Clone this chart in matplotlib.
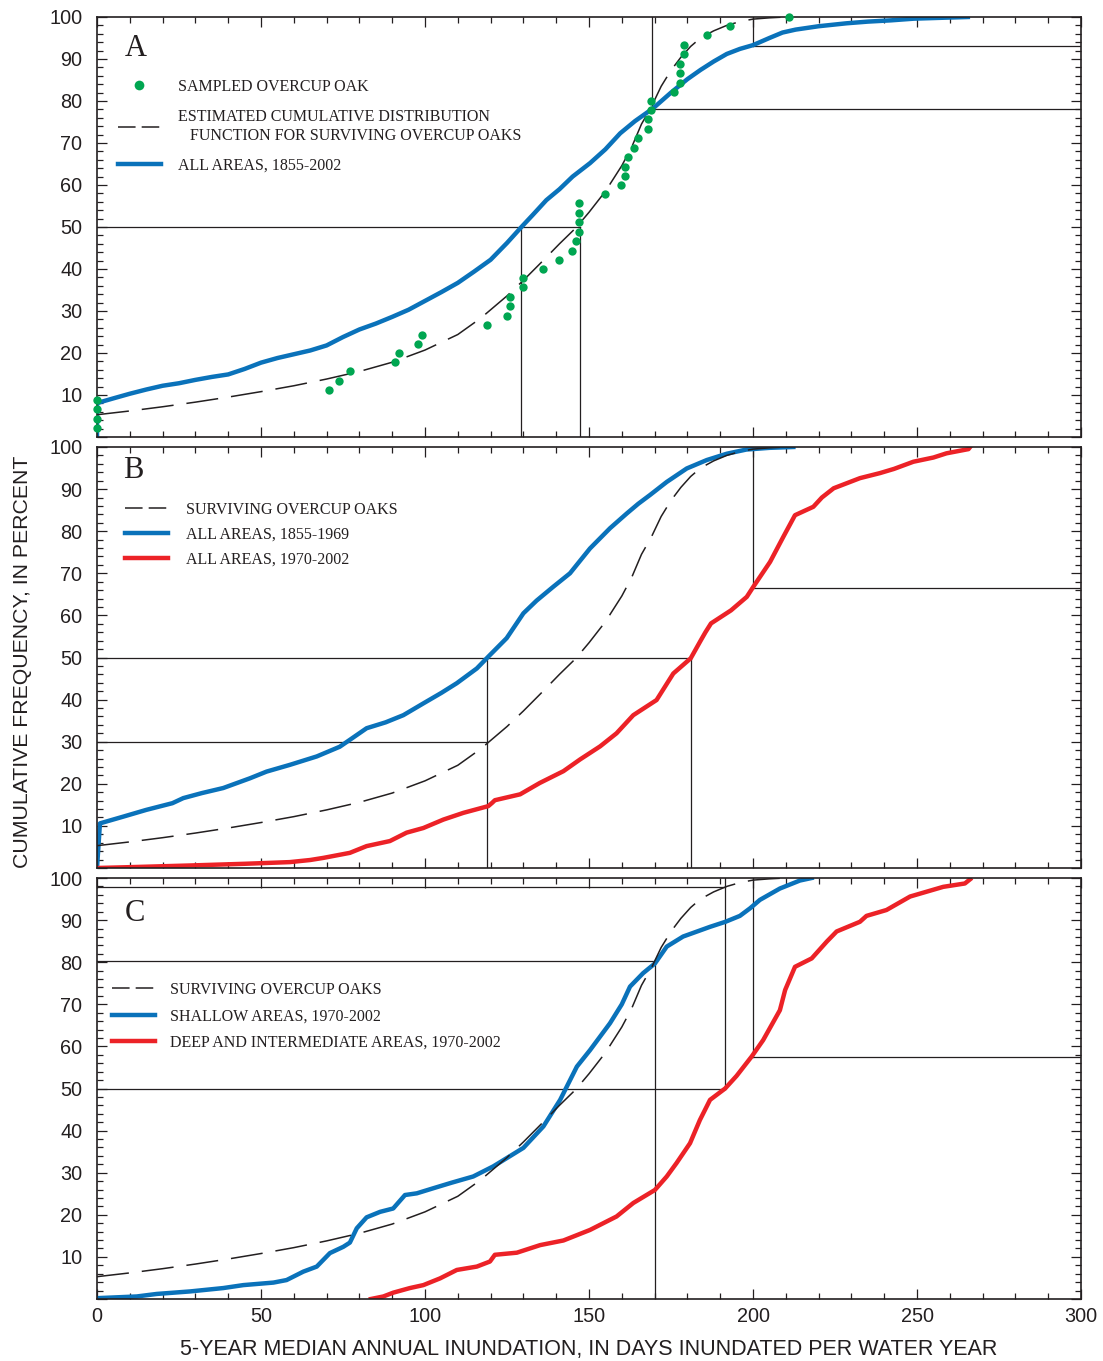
"""
Cumulative distribution of 5-year median annual inundation for
overcup oak sites (panels A, B, C stacked on a shared x axis).
"""
import matplotlib
matplotlib.use("Agg")
import matplotlib.pyplot as plt
from matplotlib.lines import Line2D
from matplotlib.ticker import MultipleLocator, FixedLocator, FuncFormatter

# --- data -----------------------------------------------------------------
# estimated CDF for surviving overcup oaks (same curve in all panels)
OAK_X = [0, 10, 20, 30, 40, 50, 60, 70, 80, 90, 100, 110, 117, 125, 130, 136,
         141, 146, 150, 155, 160, 163, 166, 169, 172, 175, 178, 181, 184, 188,
         192, 196, 200, 205, 210]
OAK_Y = [5.3, 6.2, 7.2, 8.3, 9.5, 10.8, 12.2, 13.8, 15.6, 17.8, 20.7, 24.4,
         28.3, 33.6, 37.3, 42, 46, 49.8, 53.5, 58.5, 64.6, 69, 74.5, 78.6, 83.5,
         87.3, 90.4, 93, 95, 96.7, 98, 98.9, 99.5, 99.8, 100]

# sampled overcup oaks (panel A)
SAMPLE_X = [0, 0, 0, 0, 70.8, 73.9, 77, 91, 92, 98, 99, 118.8, 124.9, 125.9,
            125.9, 130, 130, 135.9, 140.8, 144.9, 145.9, 146.9, 146.9, 146.9,
            146.9, 154.9, 159.9, 160.9, 160.9, 161.9, 163.8, 164.8, 167.9,
            167.9, 168.9, 168.9, 175.8, 177.8, 177.8, 177.8, 178.9, 178.9,
            185.9, 192.9, 210.9]
SAMPLE_Y = [2.2, 4.4, 6.7, 8.9, 11.1, 13.3, 15.6, 17.8, 20.0, 22.2, 24.4, 26.7,
            28.9, 31.1, 33.3, 35.6, 37.8, 40.0, 42.2, 44.4, 46.7, 48.9, 51.1,
            53.3, 55.6, 57.8, 60.0, 62.2, 64.4, 66.7, 68.9, 71.1, 73.3, 75.6,
            77.8, 80.0, 82.2, 84.4, 86.7, 88.9, 91.1, 93.3, 95.6, 97.8, 100.0]

# A: all areas 1855-2002
A_ALL_X = [0, 0, 1, 5, 10, 15, 20, 25, 30, 35, 40, 45, 50, 55, 60, 65, 70, 75,
           80, 85, 90, 95, 100, 105, 110, 115, 120, 125, 129.4, 133, 137, 141,
           145, 150.3, 155, 159.5, 164, 169.6, 175, 180, 184, 188, 192, 196,
           200, 205, 209, 213, 220, 228.5, 235, 242, 249, 257, 265.5]
A_ALL_Y = [0, 8, 8.3, 9.2, 10.3, 11.3, 12.2, 12.8, 13.6, 14.3, 14.9, 16.2, 17.7,
           18.8, 19.7, 20.6, 21.8, 23.8, 25.6, 27, 28.6, 30.3, 32.4, 34.5, 36.7,
           39.4, 42.2, 46.2, 50, 53, 56.4, 59, 62, 65.2, 68.5, 72.3, 75.2, 78.3,
           82, 85.2, 87.4, 89.4, 91.2, 92.4, 93.3, 95, 96.3, 97, 97.8, 98.5,
           98.9, 99.2, 99.6, 99.8, 100]

# B: all areas 1855-1969 / 1970-2002
B_OLD_X = [0, 0.9, 8, 15, 23, 26.3, 32, 38.5, 46.6, 51.7, 58.8, 67, 74, 77,
           82.2, 88, 93.4, 99.5, 105, 109.7, 115.8, 119.3, 124.9, 130, 134,
           139.1, 144.2, 150.3, 156.4, 161.5, 165, 168.6, 173.7, 179.8, 185.9,
           192, 198, 205, 212.3]
B_OLD_Y = [0, 10.6, 12.2, 13.8, 15.4, 16.6, 17.8, 19, 21.3, 22.9, 24.5, 26.5,
           28.8, 30.4, 33.2, 34.6, 36.3, 39.1, 41.6, 43.9, 47.4, 50.2, 54.6,
           60.5, 63.5, 66.8, 70, 75.9, 80.7, 84.2, 86.5, 88.6, 91.7, 94.9, 96.9,
           98.4, 99.4, 99.8, 100]
B_NEW_X = [0, 10, 28.4, 45, 58.8, 65, 69, 77.1, 82.2, 89.3, 94.4, 99.5, 105.6,
           111.7, 119.3, 120.5, 121.3, 129, 135, 142.2, 147.3, 153.4, 158.4,
           163.5, 170.6, 175.7, 181, 184.1, 185.5, 187.2, 193.3, 198.1, 200.1,
           205.2, 209.2, 212.8, 218.4, 221, 224.6, 232.6, 238.7, 243, 248.9,
           255, 259, 265.7, 266.2]
B_NEW_Y = [0, 0.2, 0.6, 1.0, 1.4, 1.9, 2.4, 3.6, 5.2, 6.4, 8.4, 9.5, 11.5, 13.1,
           14.7, 15.5, 16.1, 17.5, 20.2, 23, 25.8, 28.9, 32, 36.3, 39.9, 46.2,
           49.8, 54.1, 56, 58.1, 61.2, 64.4, 66.8, 72.7, 78.6, 83.8, 85.8, 88,
           90.2, 92.6, 93.8, 94.8, 96.5, 97.5, 98.5, 99.5, 100]

# C: shallow / deep and intermediate areas 1970-2002
C_SHALLOW_X = [0, 12.1, 18.2, 28.4, 38.5, 44.6, 53.8, 57.8, 62.9, 67, 71, 75.1,
               77.1, 79.2, 82.2, 86.3, 90.3, 93.9, 97.5, 102.5, 108, 114.7,
               120.8, 125, 130, 136.1, 141.2, 143.2, 146.3, 150.3, 156.4, 160,
               162.5, 166.5, 170.1, 173.7, 178.7, 186.9, 191.6, 196, 199.1,
               202.1, 208.2, 214.3, 217.9]
C_SHALLOW_Y = [0.2, 0.6, 1.2, 1.8, 2.6, 3.3, 3.9, 4.5, 6.5, 7.7, 10.9, 12.4,
               13.4, 16.8, 19.4, 20.7, 21.5, 24.7, 25.1, 26.3, 27.6, 29.1, 31.5,
               33.5, 35.9, 41, 47.3, 50.4, 55.2, 59.1, 65.5, 70, 74.2, 77.4,
               79.7, 83.7, 86.1, 88.4, 89.6, 91, 92.8, 94.8, 97.5, 99.4, 100]
C_DEEP_X = [83.5, 87.3, 90.3, 95.4, 99.5, 104.6, 109.7, 115.8, 119.8, 121.3,
            128, 135.1, 142.2, 150.3, 158.4, 163.5, 170.1, 173.7, 176.7, 180.8,
            183.8, 186.9, 191.5, 195, 199.6, 203.1, 208.2, 209.8, 212.8, 217.9,
            222.5, 225.5, 232.6, 234.6, 240.7, 247.9, 258, 264.6, 266.2]
C_DEEP_Y = [0, 0.6, 1.5, 2.6, 3.3, 4.9, 6.9, 7.7, 8.9, 10.5, 11, 12.8, 13.9,
            16.4, 19.6, 22.8, 25.9, 29.1, 32.3, 37, 42.5, 47.3, 50, 53, 57.6,
            61.5, 68.6, 73.4, 78.9, 80.9, 84.9, 87.3, 89.6, 91, 92.4, 95.6, 97.9,
            98.7, 99.7]

# thin guide lines, each as (x pair, y pair)
A_GUIDES = [((0, 147.3), (50, 50)), ((129.3, 129.3), (0, 50)),
            ((147.3, 147.3), (0, 50)), ((169.2, 169.2), (78, 100)),
            ((169.2, 300), (78, 78)), ((200, 200), (93, 100)),
            ((200, 300), (93, 93))]
B_GUIDES = [((0, 181), (50, 50)), ((0, 119), (30, 30)),
            ((119, 119), (0, 50)), ((181, 181), (0, 50)),
            ((200, 200), (66.5, 100)), ((200, 300), (66.5, 66.5))]
C_GUIDES = [((0, 191.6), (97.9, 97.9)), ((0, 170.1), (80.2, 80.2)),
            ((170.1, 170.1), (0, 80.2)), ((0, 191.6), (50, 50)),
            ((191.6, 191.6), (50, 100)), ((200, 200), (57.5, 100)),
            ((200, 300), (57.5, 57.5))]

X_TICKS = [0, 50, 100, 150, 200, 250, 300]
Y_TICKS = [0, 10, 20, 30, 40, 50, 60, 70, 80, 90, 100]

# --- styles -----------------------------------------------------------------
INK = "#231f20"
BLUE = "#0a72ba"
RED = "#ec2227"
GREEN = "#00a651"
SANS = ["Liberation Sans", "DejaVu Sans"]
SERIF = ["Liberation Serif", "DejaVu Serif"]
DASH = dict(color=INK, lw=1.1, dashes=(21, 8.5))
DASH_KEY = dict(color=INK, lw=1.1, dashes=(11.5, 4))


def style_axes(ax, show_xlabels):
    ax.set_xlim(0, 300)
    ax.set_ylim(0, 100)
    ax.xaxis.set_major_locator(FixedLocator(X_TICKS))
    ax.xaxis.set_minor_locator(MultipleLocator(10))
    ax.yaxis.set_major_locator(FixedLocator(Y_TICKS))
    ax.yaxis.set_minor_locator(MultipleLocator(2))
    # no label at the 0 tick
    ax.yaxis.set_major_formatter(FuncFormatter(
        lambda v, pos: "" if v == 0 else f"{v:.0f}"))
    ax.tick_params(which="both", direction="in", top=True, right=True,
                   color=INK, width=0.9)
    ax.tick_params(which="major", length=7)
    ax.tick_params(which="minor", length=4)
    ax.tick_params(axis="y", labelsize=14.3, labelcolor=INK, pad=10.5)
    ax.tick_params(axis="x", labelsize=14.3, labelcolor=INK, pad=6)
    if not show_xlabels:
        ax.tick_params(axis="x", labelbottom=False)
    for lab in ax.get_xticklabels() + ax.get_yticklabels():
        lab.set_family(SANS)
    for sp in ax.spines.values():
        sp.set_color(INK)
        sp.set_linewidth(1.2)


def draw_guides(ax, guides):
    for xs, ys in guides:
        ax.plot(xs, ys, color=INK, lw=0.9, zorder=1)


def panel_letter(ax, letter, x, y):
    ax.text(x, y, letter, transform=ax.transAxes, fontsize=22,
            family=SERIF, color=INK, va="baseline", ha="left")


def add_legend(ax, handles, labels, anchor, spacing, textpad=1.1):
    ax.legend(handles, labels, loc="upper left", bbox_to_anchor=anchor,
              frameon=False, borderaxespad=0, borderpad=0,
              handlelength=2.7, handletextpad=textpad, labelspacing=spacing,
              prop={"family": SERIF, "size": 11.5}, labelcolor=INK)


def main():
    fig = plt.figure(figsize=(11.03, 13.61), dpi=100)
    left, width = 97 / 1103, 984 / 1103
    ax_a = fig.add_axes([left, 1 - 437 / 1361, width, 420 / 1361])
    ax_b = fig.add_axes([left, 1 - 868 / 1361, width, 421 / 1361])
    ax_c = fig.add_axes([left, 1 - 1299 / 1361, width, 421 / 1361])

    h_dot = Line2D([], [], marker="o", ls="none", color=GREEN, ms=7, mew=0)
    h_dash = Line2D([], [], **DASH_KEY)
    h_blue = Line2D([], [], color=BLUE, lw=3.2)
    h_red = Line2D([], [], color=RED, lw=3.2)

    # panel A
    draw_guides(ax_a, A_GUIDES)
    ax_a.plot(A_ALL_X, A_ALL_Y, color=BLUE, lw=3.2, zorder=2)
    ax_a.plot(OAK_X, OAK_Y, zorder=3, **DASH)
    ax_a.plot(SAMPLE_X, SAMPLE_Y, "o", color=GREEN, ms=6, mew=0,
              zorder=4, clip_on=False)
    add_legend(ax_a, [h_dot, h_dash, h_blue],
               ["SAMPLED OVERCUP OAK",
                "ESTIMATED CUMULATIVE DISTRIBUTION\n"
                "   FUNCTION FOR SURVIVING OVERCUP OAKS",
                "ALL AREAS, 1855-2002"],
               (0.021, 0.853), 0.9)
    panel_letter(ax_a, "A", 0.0285, 0.907)
    style_axes(ax_a, False)

    # panel B
    draw_guides(ax_b, B_GUIDES)
    ax_b.plot(B_OLD_X, B_OLD_Y, color=BLUE, lw=3.2, zorder=2)
    ax_b.plot(B_NEW_X, B_NEW_Y, color=RED, lw=3.2, zorder=2)
    ax_b.plot(OAK_X, OAK_Y, zorder=3, **DASH)
    add_legend(ax_b, [h_dash, h_blue, h_red],
               ["SURVIVING OVERCUP OAKS", "ALL AREAS, 1855-1969",
                "ALL AREAS, 1970-2002"],
               (0.0285, 0.870), 0.56)
    panel_letter(ax_b, "B", 0.026, 0.926)
    style_axes(ax_b, False)

    # panel C
    draw_guides(ax_c, C_GUIDES)
    ax_c.plot(C_SHALLOW_X, C_SHALLOW_Y, color=BLUE, lw=3.2, zorder=2)
    ax_c.plot(C_DEEP_X, C_DEEP_Y, color=RED, lw=3.2, zorder=2)
    ax_c.plot(OAK_X, OAK_Y, zorder=3, **DASH)
    add_legend(ax_c, [h_dash, h_blue, h_red],
               ["SURVIVING OVERCUP OAKS", "SHALLOW AREAS, 1970-2002",
                "DEEP AND INTERMEDIATE AREAS, 1970-2002"],
               (0.0152, 0.753), 0.66, textpad=0.95)
    panel_letter(ax_c, "C", 0.0285, 0.899)
    style_axes(ax_c, True)
    ax_c.set_xlabel("5-YEAR MEDIAN ANNUAL INUNDATION, IN DAYS INUNDATED "
                    "PER WATER YEAR", fontsize=15.5, family=SANS, color=INK,
                    labelpad=9)

    fig.text(0.02, 0.514, "CUMULATIVE FREQUENCY, IN PERCENT", rotation=90,
             ha="center", va="center", fontsize=15.3, family=SANS, color=INK)

    fig.savefig("out.png", dpi=100)


if __name__ == "__main__":
    main()
